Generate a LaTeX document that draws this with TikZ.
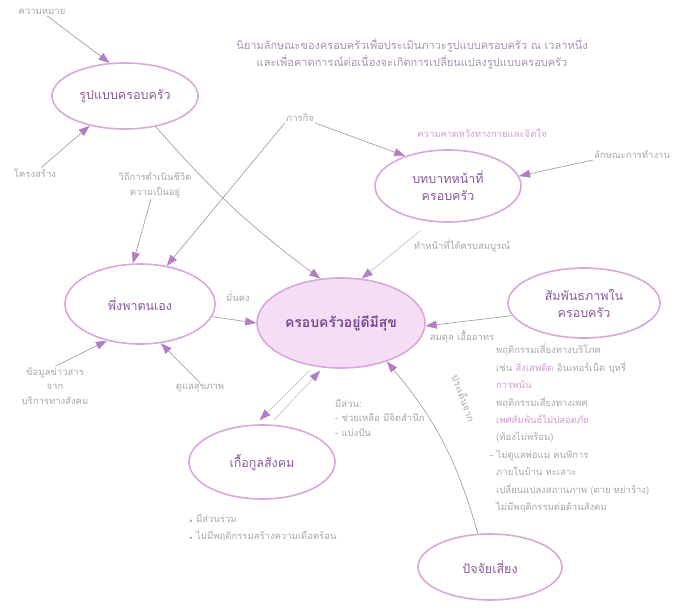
\documentclass[tikz,border=0pt]{standalone}
\usepackage{fontspec}
\setmainfont[Script=Thai]{Loma}
\usetikzlibrary{arrows.meta,shapes.geometric}
\definecolor{lblc}{HTML}{A8A8A8}
\definecolor{ntxt}{HTML}{8A5A9E}
\definecolor{ctxt}{HTML}{7A4690}
\definecolor{nbord}{HTML}{D8A8DA}
\definecolor{arrc}{HTML}{B27EC4}
\definecolor{linec}{HTML}{A4A4A4}
\definecolor{fillc}{HTML}{F5DEF5}
\definecolor{toptxt}{HTML}{A892B0}
\definecolor{pinkt}{HTML}{D49AD6}
\begin{document}
\begin{tikzpicture}[x=1pt,y=-1pt,
  ell/.style={ellipse, draw=nbord, line width=1.6pt, text=ntxt, font=\fontsize{12.5}{17}\selectfont, align=center, inner sep=0pt},
  lbl/.style={text=lblc, font=\fontsize{9.5}{14.5}\selectfont, align=center, inner sep=1pt},
  arr/.style={draw=linec, line width=0.7pt, -{Triangle[length=11pt,width=8pt,color=arrc]}},
  larr/.style={draw=linec!70, line width=0.6pt, -{Triangle[length=11pt,width=8pt,color=arrc]}},
]
\path[use as bounding box, fill=white] (0,0) rectangle (683,611);

% main nodes
\node[ell, minimum width=146pt, minimum height=66pt] (form) at (125,96) {รูปแบบครอบครัว};
\node[ell, minimum width=146pt, minimum height=72pt] (role) at (448,186) {บทบาทหน้าที่\\ครอบครัว};
\node[ell, minimum width=150pt, minimum height=80pt] (self) at (140,304) {พึ่งพาตนเอง};
\node[ell, fill=fillc, text=ctxt, font=\fontsize{14}{17}\selectfont\bfseries, minimum width=168pt, minimum height=90pt] (happy) at (341,323) {ครอบครัวอยู่ดีมีสุข};
\node[ell, minimum width=152pt, minimum height=70pt] (rel) at (584,303) {สัมพันธภาพใน\\ครอบครัว};
\node[ell, minimum width=146pt, minimum height=74pt] (social) at (262,462) {เกื้อกูลสังคม};
\node[ell, minimum width=144pt, minimum height=66pt] (risk) at (490,567) {ปัจจัยเสี่ยง};

% labels
\node[lbl] (mean) at (42,12) {ความหมาย};
\node[lbl] (struct) at (35,173) {โครงสร้าง};
\node[text=toptxt, font=\fontsize{11}{16.5}\selectfont, align=center] (top) at (412,54) {นิยามลักษณะของครอบครัวเพื่อประเมินภาวะรูปแบบครอบครัว ณ เวลาหนึ่ง\\และเพื่อคาดการณ์ต่อเนื่องจะเกิดการเปลี่ยนแปลงรูปแบบครอบครัว};
\node[lbl] (task) at (300,118) {ภารกิจ};
\node[lbl, text=pinkt] (expect) at (482,133) {ความคาดหวังทางกายและจิตใจ};
\node[lbl] (work) at (632,155) {ลักษณะการทำงาน};
\node[lbl] (life) at (155,185) {วิถีการดำเนินชีวิต\\ความเป็นอยู่};
\node[lbl] (stable) at (238,297) {มั่นคง};
\node[lbl] (duty) at (462,246) {ทำหน้าที่ได้ครบสมบูรณ์};
\node[lbl] (bal) at (462,337) {สมดุล เอื้ออาทร};
\node[lbl] (info) at (55,386) {ข้อมูลข่าวสาร\\จาก\\บริการทางสังคม};
\node[lbl] (health) at (200,388) {ดูแลสุขภาพ};
\node[lbl, align=left, anchor=north west] (part) at (334,398) {มีส่วน:\\- ช่วยเหลือ มีจิตสำนึก\\- แบ่งปัน};
\node[lbl, align=left, anchor=north west, font=\fontsize{9.5}{17.5}\selectfont] (bul) at (188,513) {{\tiny$\bullet$} มีส่วนร่วม\\{\tiny$\bullet$} ไม่มีพฤติกรรมสร้างความเดือดร้อน};
\node[lbl, align=left, anchor=north west, font=\fontsize{9.5}{17.4}\selectfont] (list) at (495,343) {%
พฤติกรรมเสี่ยงทางบริโภค\\
เช่น {\color{pinkt}สิ่งเสพติด} อินเทอร์เน็ต บุหรี่\\
{\color{pinkt}การพนัน}\\
พฤติกรรมเสี่ยงทางเพศ\\
{\color{pinkt}เพศสัมพันธ์ไม่ปลอดภัย}\\
(ท้องไม่พร้อม)\\
\hspace*{-6pt}- ไม่ดูแลพ่อแม่ คนพิการ\\
ภายในบ้าน ทะเลาะ\\
เปลี่ยนแปลงสถานภาพ (ตาย หย่าร้าง)\\
ไม่มีพฤติกรรมต่อต้านสังคม};
\node[lbl, rotate=-70] (cause) at (464,398) {ประเด็นจาก};

% connectors
\draw[arr] (mean) -- (form.115);
\draw[arr] (struct) -- (form.-140);
\draw[arr] (form.-45) to[bend right=6] (happy.115);
\draw[arr] (task.south west) -- (self.55);
\draw[arr] (task.south east) -- (role.145);
\draw[arr] (work.south west) -- (role.8);
\draw[arr] (life) -- (self.100);
\draw[arr] (self.-10) -- (happy.west);
\draw[larr, shorten <=14pt] (role.-115) -- (happy.65);
\draw[arr] (rel.190) -- (happy.-2);
\draw[arr] (info.north) -- (self.-132);
\draw[arr] (health.north) -- (self.-62);
\draw[larr, shorten <=6pt, shorten >=6pt] (happy.-122) -- (social.100);
\draw[larr, shorten <=6pt, shorten >=4pt] (social.78) -- (happy.-112);
\draw[arr] (risk.110) to[bend right=12] (happy.-40);
\end{tikzpicture}
\end{document}
